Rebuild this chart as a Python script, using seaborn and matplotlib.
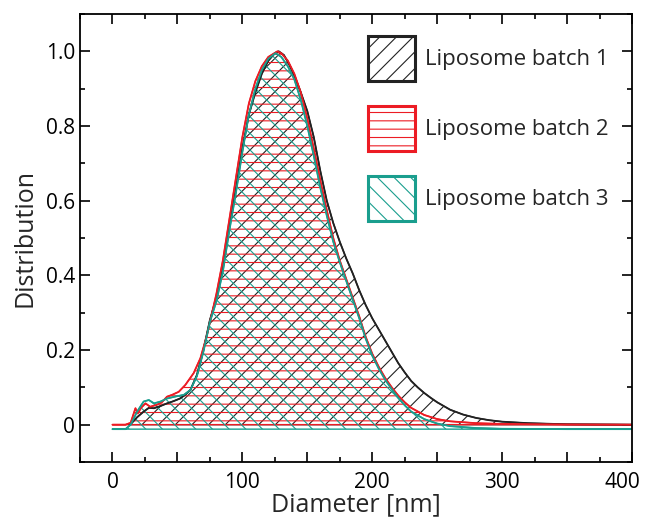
import numpy as np
import pandas as pd
import matplotlib
matplotlib.use("Agg")
import matplotlib.pyplot as plt
import seaborn as sns
from matplotlib.patches import Patch
from matplotlib.ticker import MultipleLocator, FuncFormatter
from matplotlib.transforms import ScaledTranslation

# batch 1 (black)
d1 = [13, 15, 19, 24, 28, 32, 37, 42, 47, 52, 56, 60, 65, 70, 75, 80, 85, 90, 95, 100,
      105, 110, 115, 120, 125, 128, 132, 136, 140, 145, 150, 155, 160, 165, 170, 175, 180, 185, 190, 195,
      200, 205, 210, 215, 220, 225, 230, 235, 240, 245, 250, 260, 270, 280, 290, 300, 320, 350, 400]
v1 = [0, 0.005, 0.02, 0.035, 0.045, 0.044, 0.05, 0.057, 0.063, 0.07, 0.08, 0.093, 0.133, 0.2, 0.28, 0.34, 0.42, 0.53, 0.63, 0.74,
      0.83, 0.89, 0.94, 0.975, 0.995, 1.0, 0.99, 0.965, 0.935, 0.89, 0.84, 0.77, 0.68, 0.6, 0.54, 0.49, 0.445, 0.405, 0.36, 0.32,
      0.285, 0.255, 0.225, 0.195, 0.165, 0.14, 0.117, 0.1, 0.085, 0.072, 0.06, 0.04, 0.027, 0.018, 0.012, 0.008, 0.004, 0.001, 0.0]

# batch 2 (red)
d2 = [0, 10, 14, 17.7, 19.5, 22, 25.4, 29, 34, 38, 42, 46, 51, 56, 62.5, 67.7, 72.8, 76.7, 80, 85,
      90, 95, 100, 105, 110, 115, 120, 127, 130, 135, 140, 145, 150, 155, 160, 165, 170, 175, 180, 185,
      190, 195, 200, 205, 210, 215, 220, 225, 230, 240, 250, 260, 280, 300, 350, 400]
v2 = [0, 0, 0.005, 0.044, 0.03, 0.045, 0.057, 0.048, 0.053, 0.06, 0.075, 0.08, 0.088, 0.106, 0.138, 0.178, 0.24, 0.30, 0.35, 0.44,
      0.55, 0.66, 0.77, 0.86, 0.92, 0.96, 0.985, 1.0, 0.995, 0.975, 0.94, 0.89, 0.82, 0.74, 0.655, 0.575, 0.50, 0.44, 0.39, 0.34,
      0.29, 0.235, 0.19, 0.155, 0.125, 0.1, 0.078, 0.06, 0.045, 0.026, 0.015, 0.009, 0.004, 0.002, 0.0005, 0.0]

# batch 3 (teal)
d3 = [0, 10, 14, 19, 24, 28, 32, 37, 42, 48, 55, 60, 65, 70, 75, 80, 85, 90, 95, 100,
      105, 110, 115, 120, 125.5, 130, 135, 140, 145, 150, 155, 160, 165, 170, 175, 180, 185, 190, 195, 200,
      205, 210, 215, 220, 225, 230, 240, 250, 260, 280, 300, 350, 400]
v3 = [-0.012, -0.012, 0.0, 0.035, 0.062, 0.066, 0.057, 0.062, 0.07, 0.075, 0.08, 0.093, 0.13, 0.195, 0.275, 0.33, 0.41, 0.52, 0.62, 0.73,
      0.83, 0.9, 0.95, 0.98, 0.995, 0.985, 0.96, 0.925, 0.87, 0.80, 0.72, 0.635, 0.56, 0.49, 0.435, 0.385, 0.335, 0.285, 0.23, 0.185,
      0.15, 0.12, 0.095, 0.072, 0.052, 0.035, 0.015, 0.003, -0.004, -0.009, -0.011, -0.012, -0.012]

labels = ["Liposome batch 1", "Liposome batch 2", "Liposome batch 3"]
baselines = [0.0, 0.0, -0.012]
colors = ["#222222", "#ec1c24", "#1a9e8e"]
hatches = ["//", "--", "\\\\"]

sns.set_style("ticks")
plt.rcParams["font.family"] = ["Open Sans", "DejaVu Sans"]
plt.rcParams["hatch.linewidth"] = 0.8

fig = plt.figure(figsize=(6.45, 5.2), dpi=100)
ax = fig.add_axes([80 / 645, 58 / 520, 552 / 645, 448 / 520])

series = [(d1, v1), (d2, v2), (d3, v3)]
for (d, v), base, c, h in zip(series, baselines, colors, hatches):
    with plt.rc_context({"hatch.color": c}):
        ax.fill_between(d, v, base, facecolor="none", edgecolor=c, hatch=h, linewidth=1.0)

for (d, v), c, lab in zip(series, colors, labels):
    df = pd.DataFrame({"Diameter": d, "Distribution": v})
    sns.lineplot(data=df, x="Diameter", y="Distribution", ax=ax, color=c, lw=1.3,
                 sort=False, estimator=None)

ax.set_xlim(-25, 400)
ax.set_ylim(-0.1, 1.1)
ax.xaxis.set_major_locator(MultipleLocator(50))
ax.xaxis.set_minor_locator(MultipleLocator(25))
ax.xaxis.set_major_formatter(FuncFormatter(lambda x, p: f"{int(x)}" if x % 100 == 0 else ""))
ax.set_yticks([0, 0.2, 0.4, 0.6, 0.8, 1.0])
ax.yaxis.set_minor_locator(MultipleLocator(0.1))
ax.yaxis.set_major_formatter(FuncFormatter(lambda y, p: "0" if abs(y) < 1e-9 else f"{y:.1f}"))

ax.tick_params(which="both", direction="in", top=True, right=True, width=1.2, labelsize=15, colors="black")
ax.tick_params(which="major", length=7)
ax.tick_params(which="minor", length=3.5)
ax.tick_params(axis="x", pad=7)
for s in ax.spines.values():
    s.set_linewidth(1.3)
    s.set_color("black")

ax.set_xlabel("Diameter [nm]", fontsize=18, labelpad=0)
ax.set_ylabel("Distribution", fontsize=18, labelpad=6)

handles = [Patch(facecolor="white", edgecolor=c, hatch=h, linewidth=2.2) for c, h in zip(colors, hatches)]
ax.legend(handles, labels, loc="upper left", bbox_to_anchor=(0.522, 0.951), frameon=False,
          fontsize=16, handlelength=2.1, handleheight=2.75, labelspacing=1.12,
          handletextpad=0.45, borderpad=0, borderaxespad=0)

# nudge the last x tick label ("400") so it stays inside the figure
fig.canvas.draw()
last_tick = ax.xaxis.get_major_ticks()[-1]
for t in ax.xaxis.get_major_ticks():
    if t.label1.get_text() == "400":
        last_tick = t
last_tick.label1.set_transform(last_tick.label1.get_transform()
                               + ScaledTranslation(-7 / 72, 0, fig.dpi_scale_trans))

fig.savefig("out.png", dpi=100)
